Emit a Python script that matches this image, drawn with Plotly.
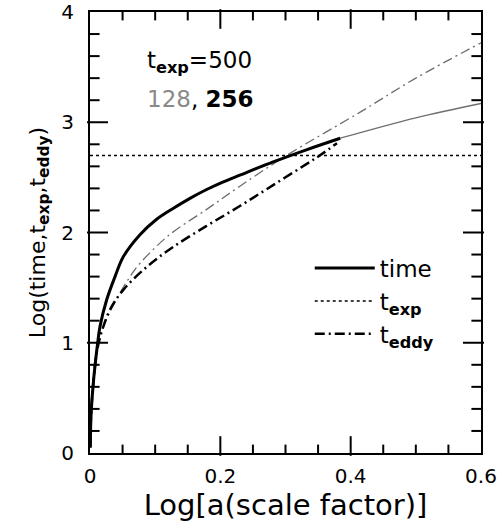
import math
import plotly.graph_objects as go

# ---- data ----
time256_x = [0.0005, 0.0015, 0.005, 0.0118, 0.0153, 0.0256, 0.0384, 0.0511, 0.0767, 0.1023, 0.128,
             0.1534, 0.179, 0.2046, 0.230, 0.281, 0.332, 0.384]
time256_y = [0.05, 0.33, 0.63, 1.00, 1.146, 1.39, 1.60, 1.78, 1.98, 2.12, 2.22,
             2.31, 2.39, 2.46, 2.52, 2.64, 2.75, 2.855]

time128_x = [0.384, 0.50, 0.60]
time128_y = [2.855, 3.04, 3.17]

eddy256_x = [0.0005, 0.0015, 0.005, 0.010, 0.015, 0.0204, 0.0307, 0.0511, 0.0895, 0.128, 0.179,
             0.230, 0.281, 0.332, 0.353, 0.379]
eddy256_y = [0.05, 0.33, 0.63, 0.90, 1.04, 1.146, 1.30, 1.48, 1.70, 1.87, 2.06,
             2.24, 2.43, 2.62, 2.70, 2.81]

eddy128_x = [0.0005, 0.0015, 0.005, 0.010, 0.015, 0.023, 0.0384, 0.0614, 0.0767, 0.12, 0.179,
             0.230, 0.302, 0.414, 0.50, 0.60]
eddy128_y = [0.05, 0.33, 0.63, 0.90, 1.04, 1.176, 1.37, 1.60, 1.72, 1.97, 2.21,
             2.42, 2.70, 3.09, 3.40, 3.72]

t_exp = 500
texp_x = [0.0, 0.6]
texp_y = [math.log10(t_exp)] * 2

x_range = [0, 0.6]
y_range = [0, 4]
x_ticks = [0, 0.2, 0.4, 0.6]
y_ticks = [0, 1, 2, 3, 4]
x_minor_step = 0.05
y_minor_step = 0.2

FONT = "DejaVu Sans, Liberation Sans, sans-serif"
GRAY = "#6e6e6e"
DASHDOT = "10px,4px,2px,4px"

W, H = 501, 525
M = dict(l=90, r=20, t=12, b=72)
px_x = (x_range[1] - x_range[0]) / (W - M["l"] - M["r"])   # data units per pixel
px_y = (y_range[1] - y_range[0]) / (H - M["t"] - M["b"])


def frange(a, b, step):
    n = int(round((b - a) / step))
    return [round(a + i * step, 6) for i in range(n + 1)]


def is_major(v, ticks):
    return any(abs(v - t) < 1e-9 for t in ticks)


fig = go.Figure()

# ---- inward tick marks on all four frame sides, generated from the tick arrays ----
# vertical ticks (bottom / top edges) drawn as vertical line markers
for size in (14, 7):
    xs = [v for v in frange(x_range[0], x_range[1], x_minor_step)[1:-1]
          if is_major(v, x_ticks) == (size == 14)]
    half = size / 2 * px_y
    fig.add_trace(go.Scatter(
        x=xs + xs, y=[y_range[0] + half] * len(xs) + [y_range[1] - half] * len(xs),
        mode="markers", cliponaxis=False, showlegend=False, hoverinfo="skip",
        marker=dict(symbol="line-ns", size=size, color="black",
                    line=dict(width=2, color="black"))))
# horizontal ticks (left / right edges) drawn as horizontal line markers
for size in (15, 8):
    ys = [v for v in frange(y_range[0], y_range[1], y_minor_step)[1:-1]
          if is_major(v, y_ticks) == (size == 15)]
    half = size / 2 * px_x
    fig.add_trace(go.Scatter(
        x=[x_range[0] + half] * len(ys) + [x_range[1] - half] * len(ys), y=ys + ys,
        mode="markers", cliponaxis=False, showlegend=False, hoverinfo="skip",
        marker=dict(symbol="line-ew", size=size, color="black",
                    line=dict(width=2, color="black"))))

fig.add_trace(go.Scatter(x=eddy128_x, y=eddy128_y, mode="lines", showlegend=False,
                         line=dict(color=GRAY, width=1.3, dash=DASHDOT, shape="spline", smoothing=1.0)))
fig.add_trace(go.Scatter(x=time128_x, y=time128_y, mode="lines", showlegend=False,
                         line=dict(color=GRAY, width=1.3, shape="spline", smoothing=1.0)))
fig.add_trace(go.Scatter(x=time256_x, y=time256_y, mode="lines", name="time",
                         line=dict(color="black", width=3, shape="spline", smoothing=1.0)))
fig.add_trace(go.Scatter(x=texp_x, y=texp_y, mode="lines", name="t<sub><b>exp</b></sub>",
                         line=dict(color="black", width=1.5, dash="dot")))
fig.add_trace(go.Scatter(x=eddy256_x, y=eddy256_y, mode="lines", name="t<sub><b>eddy</b></sub>",
                         line=dict(color="black", width=2.5, dash=DASHDOT, shape="spline", smoothing=1.0)))

fig.update_layout(
    template="none",
    width=W, height=H,
    margin=dict(**M, pad=0),
    paper_bgcolor="white", plot_bgcolor="white",
    xaxis=dict(range=x_range, tickmode="array", tickvals=x_ticks, ticktext=[f"{v:g}" for v in x_ticks],
               showline=True, linecolor="black", linewidth=2, mirror=True, automargin=False,
               ticks="", ticklabelstandoff=4,
               showgrid=False, zeroline=False,
               tickfont=dict(family=FONT, size=20, color="black"),
               title=dict(text="Log[a(scale factor)]", standoff=3,
                          font=dict(family=FONT, size=29, color="black"))),
    yaxis=dict(range=y_range, tickmode="array", tickvals=y_ticks, ticktext=[f"{v:g}" for v in y_ticks],
               showline=True, linecolor="black", linewidth=2, mirror=True, automargin=False,
               ticks="", ticklabelstandoff=10,
               showgrid=False, zeroline=False,
               tickfont=dict(family=FONT, size=20, color="black"),
               title=dict(text="Log(time,t<sub><b>exp</b></sub>,t<sub><b>eddy</b></sub>)", standoff=10,
                          font=dict(family=FONT, size=22, color="black"))),
    legend=dict(x=0.562, y=0.468, xanchor="left", yanchor="top", bgcolor="rgba(0,0,0,0)",
                itemwidth=60, tracegroupgap=0, borderwidth=0,
                font=dict(family=FONT, size=23, color="black")),
)

fig.add_annotation(x=0.084, y=3.55, xref="x", yref="y", xanchor="left", yanchor="middle",
                   text="t<sub><b>exp</b></sub>=500", showarrow=False,
                   font=dict(family=FONT, size=23, color="black"))
fig.add_annotation(x=0.084, y=3.21, xref="x", yref="y", xanchor="left", yanchor="middle",
                   text="<span style='color:#8a8a8a'>128</span>, <b>256</b>", showarrow=False,
                   font=dict(family=FONT, size=23, color="black"))

fig.write_html("out.html")
